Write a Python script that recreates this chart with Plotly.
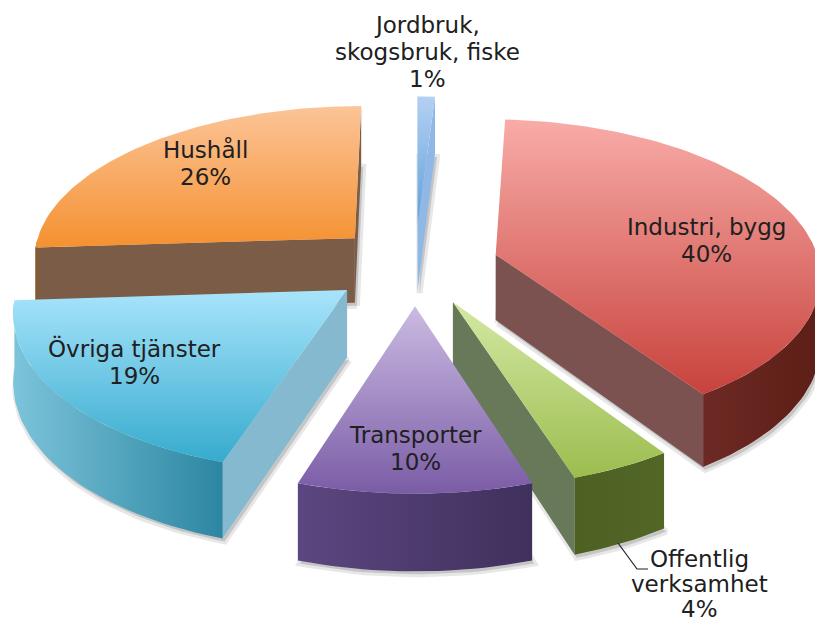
import math
import plotly.graph_objects as go

categories = ["Jordbruk,<br>skogsbruk, fiske", "Industri, bygg", "Offentlig<br>verksamhet",
              "Transporter", "Övriga tjänster", "Hushåll"]
values = [1, 39.6, 4.4, 10, 19, 26]

# style: top-face gradient, cut-face colour, outer wall left/right colours
top_colors = [("#b4d0f2", "#5f9fdc"), ("#f8aca8", "#c8423c"), ("#d4e8a4", "#9cbd4e"),
              ("#cbbbe2", "#7a5ca6"), ("#a8e4fb", "#36abce"), ("#fcc498", "#f59130")]
cut_colors = ["#8fb8e6", "#7b5250", "#68795a", "#5a4478", "#85b9cf", "#7b5c46"]
wall_colors = [("#6a96c8", "#6a96c8"), ("#6d2a24", "#5c1e16"), ("#4c6122", "#526626"),
               ("#5c4680", "#40305c"), ("#7cc4da", "#2c86a2"), ("#8a5a2a", "#8a5a2a")]
draw_order = [0, 5, 1, 4, 2, 3]
label_xy = [(427, 52), (706, 240), (699, 584), (415, 448), (134, 362), (205, 163)]
label_pitch = [27, 27, 25, 27, 27, 27]

CX, CY, R, K, P, E, H = 415, 265, 324, 154 / 324, 0.12, 0.26, 66


def project(x, y, z=0.0):
    s = 1 / (1 + P * y)
    return CX + R * x * s, CY - R * K * y * s + H * z * s


def arc(a0, a1, ox, oy, z=0.0):
    n = max(2, int(abs(a1 - a0) / 1.5) + 2)
    pts = []
    for i in range(n):
        a = math.radians(a0 + (a1 - a0) * i / (n - 1))
        pts.append(project(ox + math.sin(a), oy + math.cos(a), z))
    return pts


def signed_area(pts):
    return sum(pts[i][0] * pts[(i + 1) % len(pts)][1] - pts[(i + 1) % len(pts)][0] * pts[i][1]
               for i in range(len(pts))) / 2


fig = go.Figure()


def poly(pts, color=None, gradient=None, line=None):
    xs = [p[0] for p in pts] + [pts[0][0]]
    ys = [p[1] for p in pts] + [pts[0][1]]
    kw = {}
    if gradient:
        kw["fillgradient"] = dict(type=gradient[0], colorscale=[[0, gradient[1]], [1, gradient[2]]])
    else:
        kw["fillcolor"] = color
    ln = dict(width=0) if line is None else line
    fig.add_trace(go.Scatter(x=xs, y=ys, mode="lines", fill="toself", line=ln,
                             hoverinfo="skip", showlegend=False, **kw))


total = sum(values)
starts, acc = [], 0.0
for v in values:
    starts.append(acc)
    acc += v / total * 360

for i in draw_order:
    a0 = starts[i]
    a1 = a0 + values[i] / total * 360
    mid = math.radians((a0 + a1) / 2)
    ox, oy = E * math.sin(mid), E * math.cos(mid)
    apex_t, apex_b = project(ox, oy), project(ox, oy, 1)
    top_arc = arc(a0, a1, ox, oy)
    bot_arc = arc(a0, a1, ox, oy, 1)

    # soft shadow from the bottom outline
    shadow = [(x + 2, y + 3) for x, y in [apex_b] + bot_arc]
    poly(shadow, color="rgba(120,120,120,0.30)", line=dict(width=6, color="rgba(120,120,120,0.18)"))

    # cut faces
    is_sliver = values[i] <= 1
    for (edge_t, edge_b, sign) in ((top_arc[0], bot_arc[0], 1), (top_arc[-1], bot_arc[-1], -1)):
        quad = [apex_t, edge_t, edge_b, apex_b]
        if is_sliver or signed_area(quad) * sign < 0:
            poly(quad, color=cut_colors[i])

    # outer wall, front half only
    w0, w1 = max(a0, 90), min(a1, 270)
    if w1 > w0:
        wt = arc(w0, w1, ox, oy)
        wb = arc(w0, w1, ox, oy, 1)
        poly(wt + wb[::-1], gradient=("horizontal", wall_colors[i][0], wall_colors[i][1]))

    # top face
    poly([apex_t] + top_arc, gradient=("vertical", top_colors[i][1], top_colors[i][0]))

for name, v, (lx, ly), pitch in zip(categories, values, label_xy, label_pitch):
    lines = name.split("<br>") + [f"{round(v)}%"]
    y0 = ly - pitch * (len(lines) - 1) / 2
    for j, text in enumerate(lines):
        fig.add_annotation(x=lx, y=y0 + j * pitch, text=text, showarrow=False, borderpad=0,
                           font=dict(family="DejaVu Sans", size=23, color="#202020"), align="center")

# leader line of the Offentlig verksamhet label
fig.add_shape(type="path", path="M 618 543 L 637 569 L 648 569",
              line=dict(color="#202020", width=1.2), xref="x", yref="y")

fig.update_layout(
    width=815, height=624, margin=dict(l=0, r=0, t=0, b=0),
    paper_bgcolor="white", plot_bgcolor="white", showlegend=False,
    xaxis=dict(range=[0, 815], visible=False, fixedrange=True),
    yaxis=dict(range=[624, 0], visible=False, fixedrange=True),
)
fig.write_html("out.html", config={"displayModeBar": False},
               post_script="document.body.style.margin='0';document.body.style.overflow='hidden';")
